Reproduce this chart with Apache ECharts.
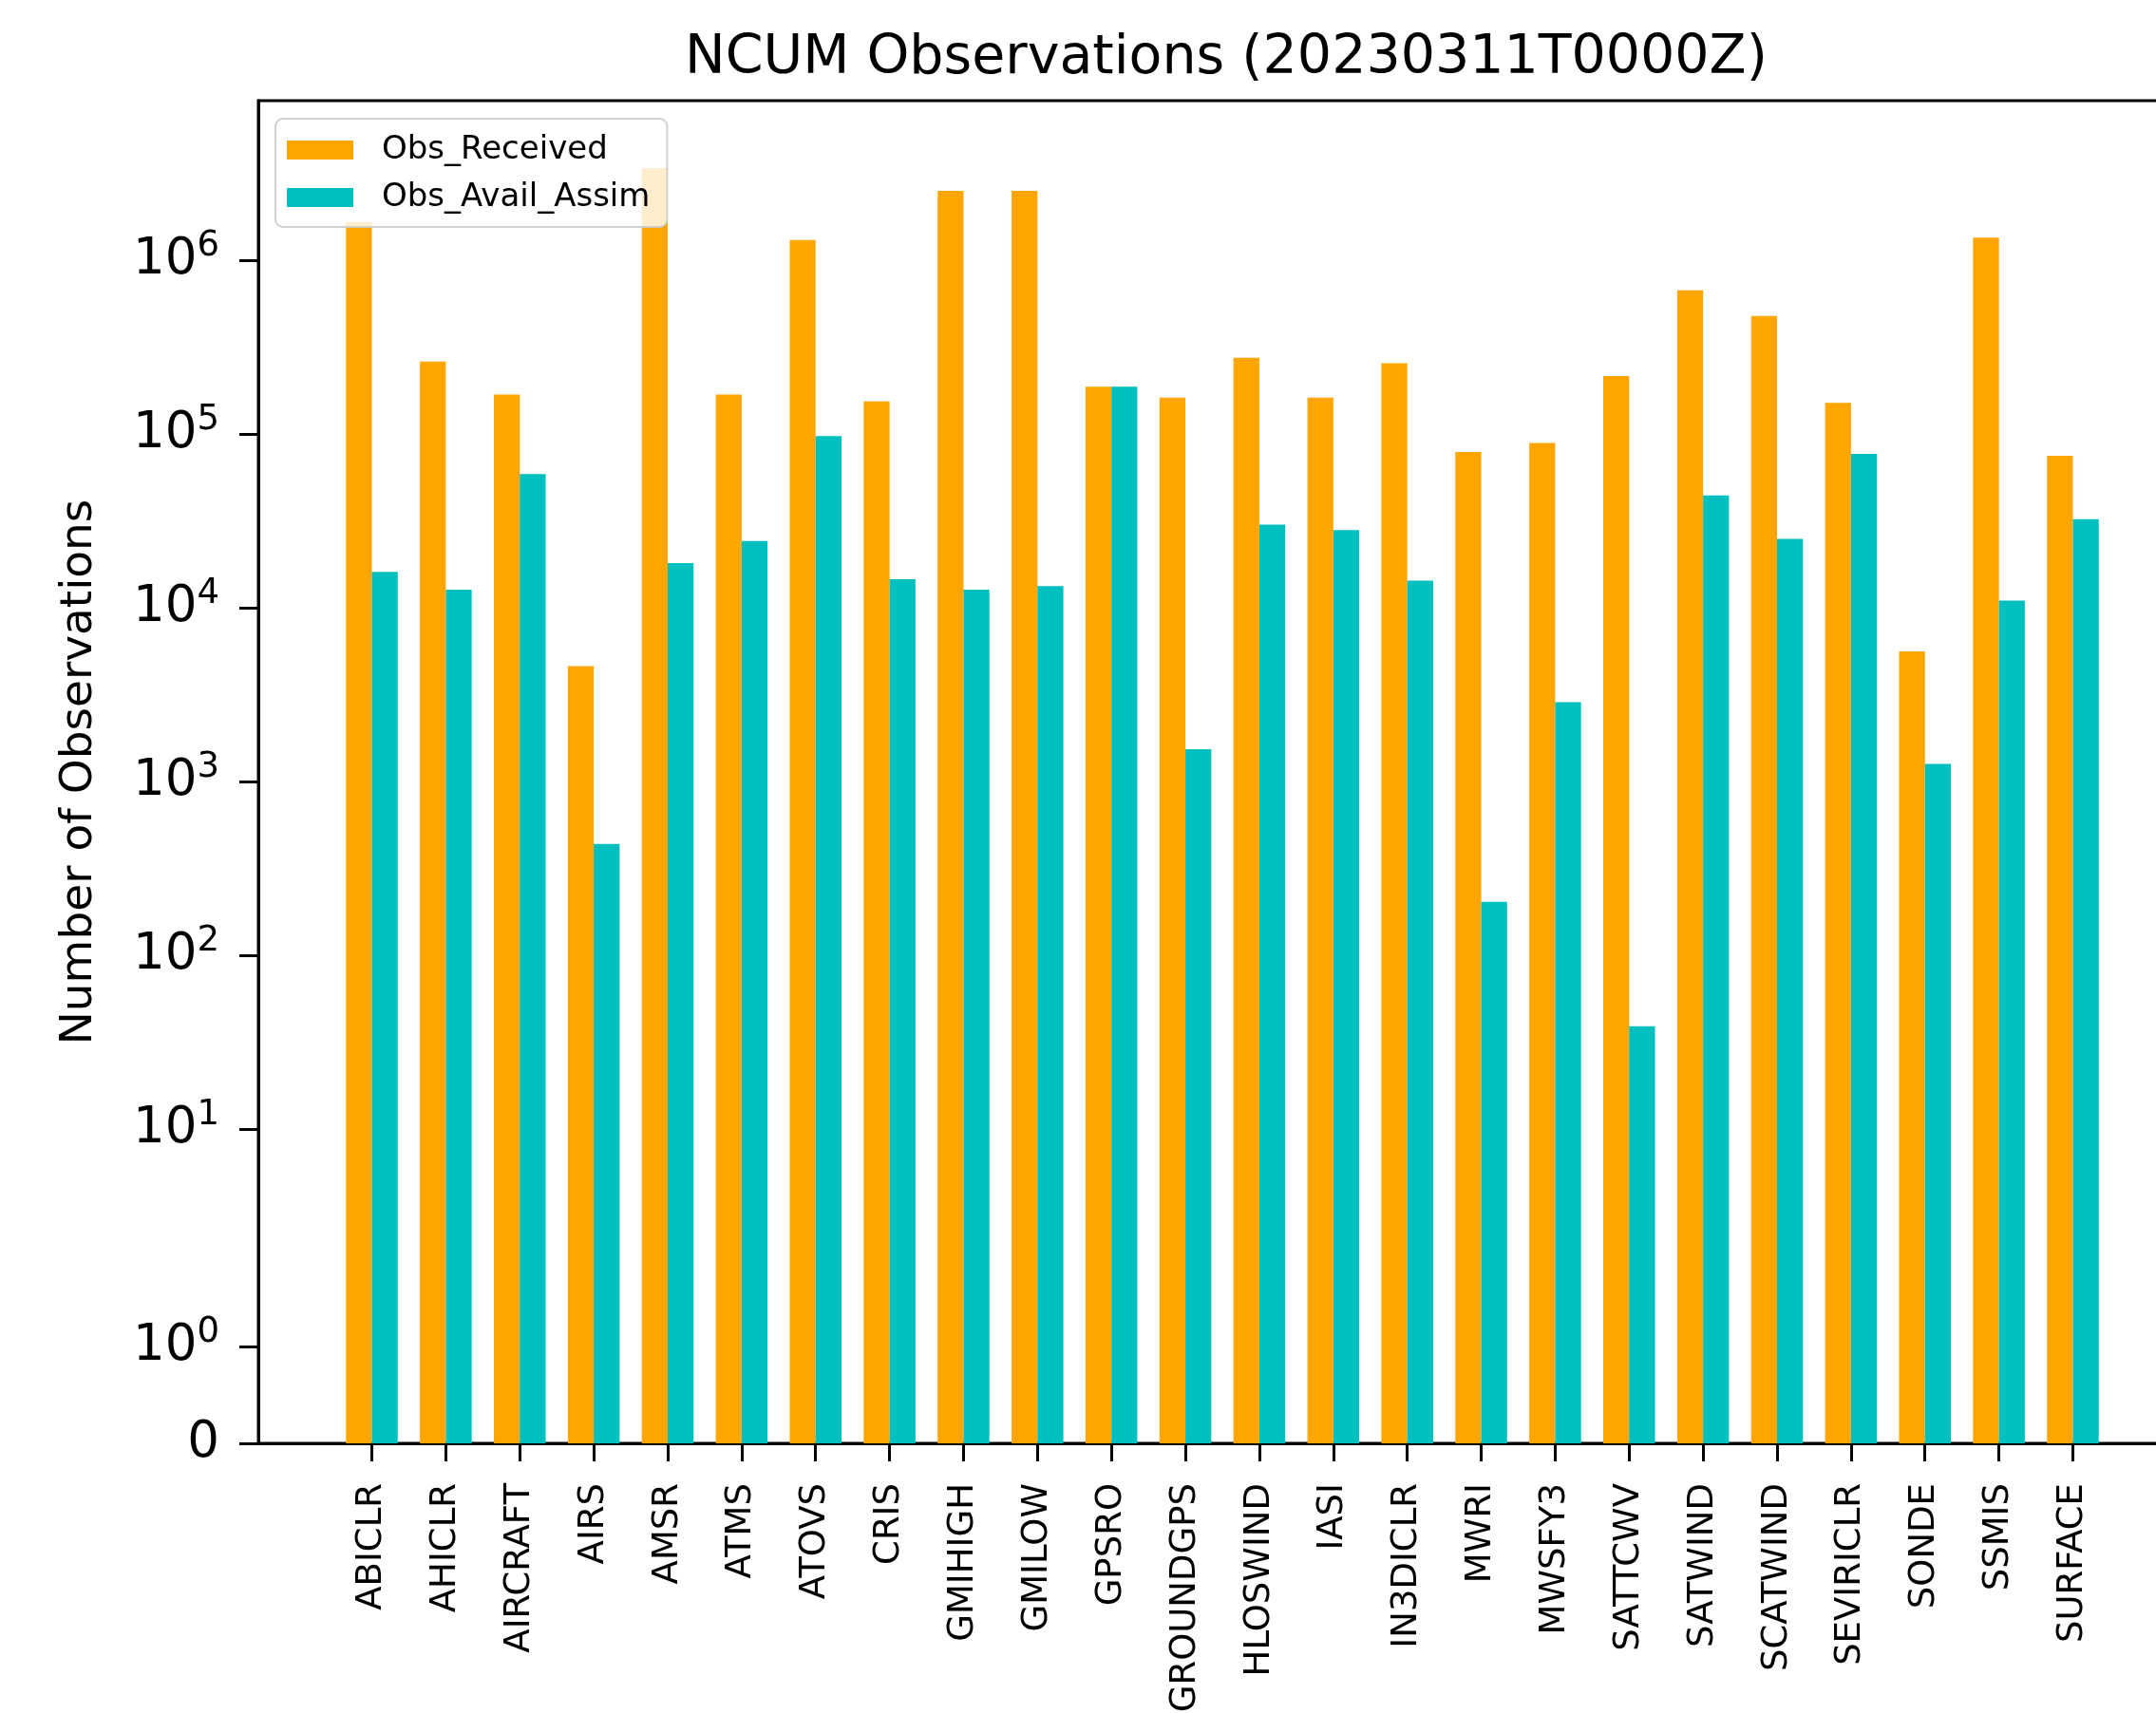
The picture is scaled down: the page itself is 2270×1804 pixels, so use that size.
<!DOCTYPE html>
<html>
<head>
<meta charset="utf-8">
<script src="https://cdn.jsdelivr.net/npm/echarts@6/dist/echarts.min.js"></script>
<style>
  html, body { margin: 0; padding: 0; background: #ffffff; }
  #chart { width: 2270px; height: 1804px; }
</style>
</head>
<body>
<div id="chart"></div>
<script>
// ---- data ----
const categories = ['ABICLR','AHICLR','AIRCRAFT','AIRS','AMSR','ATMS','ATOVS','CRIS','GMIHIGH','GMILOW','GPSRO','GROUNDGPS','HLOSWIND','IASI','IN3DICLR','MWRI','MWSFY3','SATTCWV','SATWIND','SCATWIND','SEVIRICLR','SONDE','SSMIS','SURFACE'];
const obsReceived = [1660000, 261000, 169000, 4620, 3400000, 169000, 1310000, 154000, 2510000, 2510000, 187500, 162000, 275000, 162000, 256000, 78700, 88900, 216000, 671000, 478000, 151000, 5610, 1350000, 75000];
const obsAvailAssim = [16100, 12700, 58900, 437, 18100, 24200, 97300, 14600, 12700, 13300, 187500, 1535, 30100, 28000, 14300, 203, 2860, 39, 44300, 24900, 76800, 1262, 11000, 32300];
const yTickValues = [0, 1, 10, 100, 1000, 10000, 100000, 1000000];
const yTickExponents = [null, '0', '1', '2', '3', '4', '5', '6'];
const seriesNames = ['Obs_Received', 'Obs_Avail_Assim'];
const titleText = 'NCUM Observations (20230311T0000Z)';
const yAxisTitle = 'Number of Observations';

// ---- symmetric log scale (linthresh = 2, linscale = 1, base 10) ----
const LINTHRESH = 2;
const LINSCALE_ADJ = 1 / (1 - 1 / 10);
function symlog(v) {
  if (v <= LINTHRESH) return v * LINSCALE_ADJ;
  return LINTHRESH * (LINSCALE_ADJ + Math.log10(v / LINTHRESH));
}
const yTop = 8.3e6;
const xMin = -1.535, xMax = 24.535;

const FONT = 'DejaVu Sans';
const yTickT = yTickValues.map(symlog);
const xTicks = categories.map((c, i) => i);

function yLabel(v) {
  let best = 0, bd = Infinity;
  yTickT.forEach((t, i) => { const d = Math.abs(t - v); if (d < bd) { bd = d; best = i; } });
  if (yTickExponents[best] === null) return '{b|' + yTickValues[best] + '}';
  return '{b|10}{s|' + yTickExponents[best] + '}';
}

const chart = echarts.init(document.getElementById('chart'), null, { renderer: 'canvas' });
chart.setOption({
  animation: false,
  backgroundColor: '#ffffff',
  title: {
    text: titleText,
    left: 721,
    top: 34,
    padding: 0,
    textStyle: { fontFamily: FONT, fontSize: 57, fontWeight: 'normal', color: '#000' }
  },
  legend: {
    data: seriesNames,
    orient: 'vertical',
    left: 290,
    top: 125,
    icon: 'rect',
    itemWidth: 70,
    itemHeight: 20,
    itemGap: 16,
    padding: [16, 18, 14, 12],
    backgroundColor: 'rgba(255,255,255,0.8)',
    borderColor: 'rgba(204,204,204,0.9)',
    borderWidth: 2,
    borderRadius: 8,
    selectedMode: false,
    textStyle: { fontFamily: FONT, fontSize: 34, color: '#000', lineHeight: 20, padding: [0, 0, 0, 25] }
  },
  grid: {
    left: 272, top: 106, width: 2030, height: 1414,
    show: true, borderColor: '#000', borderWidth: 3,
    containLabel: false, outerBoundsMode: 'none'
  },
  xAxis: {
    type: 'value',
    min: xMin, max: xMax,
    axisLine: { show: true, onZero: false, lineStyle: { color: '#000', width: 3 } },
    axisTick: { show: true, customValues: xTicks, length: 19, lineStyle: { color: '#000', width: 3 } },
    axisLabel: {
      customValues: xTicks,
      rotate: 90,
      margin: 42,
      fontFamily: FONT, fontSize: 37, color: '#000',
      formatter: function (v) { return categories[Math.round(v)]; }
    },
    splitLine: { show: false }
  },
  yAxis: {
    type: 'value',
    min: 0, max: symlog(yTop),
    name: yAxisTitle,
    nameLocation: 'middle',
    nameRotate: 90,
    nameGap: 165,
    nameTextStyle: { fontFamily: FONT, fontSize: 47, color: '#000' },
    axisLine: { show: true, onZero: false, lineStyle: { color: '#000', width: 3 } },
    axisTick: { show: true, customValues: yTickT, length: 20, lineStyle: { color: '#000', width: 3 } },
    axisLabel: {
      customValues: yTickT,
      margin: 41,
      formatter: yLabel,
      rich: {
        b: { fontFamily: FONT, fontSize: 53, lineHeight: 66, color: '#000' },
        s: { fontFamily: FONT, fontSize: 37, lineHeight: 37, verticalAlign: 'top', color: '#000' }
      }
    },
    splitLine: { show: false }
  },
  series: [
    {
      name: seriesNames[0],
      type: 'bar',
      barWidth: '35%',
      barGap: '0%',
      itemStyle: { color: '#FFA500' },
      emphasis: { disabled: true },
      data: obsReceived.map((v, i) => [i, symlog(v)])
    },
    {
      name: seriesNames[1],
      type: 'bar',
      barWidth: '35%',
      barGap: '0%',
      itemStyle: { color: '#00BFBF' },
      emphasis: { disabled: true },
      data: obsAvailAssim.map((v, i) => [i, symlog(v)])
    }
  ]
});
</script>
</body>
</html>
